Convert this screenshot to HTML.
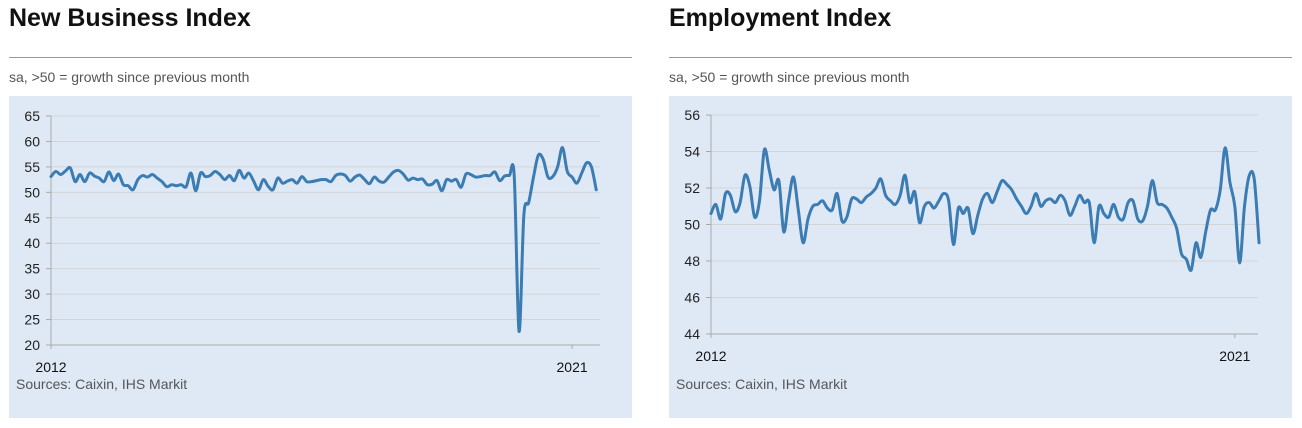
<!DOCTYPE html>
<html><head><meta charset="utf-8">
<style>
html,body{margin:0;padding:0;background:#fff;width:1302px;height:428px;overflow:hidden;font-family:"Liberation Sans",sans-serif;}
.title{position:absolute;top:4px;font-size:25px;font-weight:bold;color:#111;}
.rule{position:absolute;top:57px;height:1px;background:#999;width:623px;}
.sub{position:absolute;top:69px;font-size:14px;color:#555;}
svg{position:absolute;left:0;top:0;}
</style></head><body>
<div class="title" style="left:9px">New Business Index</div>
<div class="rule" style="left:9px"></div>
<div class="sub" style="left:9px">sa, &gt;50 = growth since previous month</div>
<div class="title" style="left:669px">Employment Index</div>
<div class="rule" style="left:669px"></div>
<div class="sub" style="left:669px">sa, &gt;50 = growth since previous month</div>
<svg id="svg" width="1302" height="428"></svg>
<script>
const nbValues=[53.1,54.1,53.5,54.2,54.8,52.1,53.5,52.1,53.8,53.2,52.8,52.1,54,52.3,53.6,51.5,51.3,50.5,52.5,53.3,53,53.5,52.8,52.1,51.1,51.5,51.3,51.5,51.1,53.8,50.3,53.8,53.1,53.3,54.1,53.5,52.5,53.3,52.3,54.3,52.8,53.8,52.2,50.5,52.5,51.2,50.5,52.8,51.8,52.2,52.5,51.8,53.1,52.1,52.1,52.3,52.5,
52.5,52.1,53.3,53.6,53.3,52.2,53,53.4,52.5,51.7,53,52.2,52,53,54,54.3,53.6,52.4,52.8,52.5,52.6,51.5,51.6,52.3,50.3,52.5,52.2,52.5,51,53.6,53.5,53,53.1,53.3,53.3,54,52.3,53.2,53.3,53.3,22.7,45.5,48,53,57.3,56.5,53,53.1,55,58.8,54.1,53,51.8,53.8,55.8,55,50.5];
const empValues=[50.6,51.1,50.3,51.7,51.6,50.7,51.2,52.7,52.1,50.4,51.3,54.1,53,51.9,52.4,49.6,51.3,52.6,50.8,49,50.3,51,51.1,51.3,50.9,50.8,51.7,50.2,50.4,51.4,51.4,51.2,51.5,51.7,52,52.5,51.6,51.3,51.1,51.6,52.7,51.2,51.8,50.1,51,51.2,50.9,51.3,51.7,51.3,48.9,50.9,50.6,50.9,49.5,50.5,51.4,51.7,
51.2,51.8,52.4,52.2,51.9,51.4,51,50.6,51,51.7,51,51.3,51.4,51.2,51.6,51.3,50.5,51,51.6,51.2,51.2,49,51,50.6,50.4,51.1,50.4,50.3,51.2,51.3,50.3,50.2,51,52.4,51.2,51.1,50.9,50.4,49.8,48.4,48.1,47.5,49,48.2,49.6,50.8,50.8,51.9,54.2,52.3,51,47.9,51,52.7,52.5,49];
const nbTicks=[65,60,55,50,45,40,35,30,25,20];
const empTicks=[56,54,52,50,48,46,44];
const xTickLabels=["2012","2021"];
const xTickMonths=[0,108];

const NS="http://www.w3.org/2000/svg";
const svg=document.getElementById('svg');
function mk(tag,attrs){const e=document.createElementNS(NS,tag);for(const k in attrs)e.setAttribute(k,attrs[k]);svg.appendChild(e);return e;}

function chart(o){
  const p=mk('rect',{x:o.px,y:96,width:623,height:322,fill:'#dfe9f6'});
  
  
  const ymin=o.ticks[o.ticks.length-1], ymax=o.ticks[0];
  const ys=v=>o.y1+(ymax-v)/(ymax-ymin)*(o.y0-o.y1);
  const xs=m=>o.x0+m*o.mpx;
  o.ticks.forEach(t=>{
    const y=ys(t);
    const g=mk('line',{x1:o.x0,x2:o.xr,y1:y,y2:y,stroke:t===ymin?'#aaa':'#d4d4d4','stroke-width':1});
    
    
    mk('line',{x1:o.x0-5,x2:o.x0,y1:y,y2:y,stroke:'#aaa'});
    const tx=mk('text',{x:o.x0-11,y:y+5,'text-anchor':'end','font-size':14,fill:'#222','font-family':'Liberation Sans, sans-serif'});
    tx.textContent=t;
    
    
  });
  const ax=mk('line',{x1:o.x0,x2:o.x0,y1:o.y1,y2:o.y0+4,stroke:'#aaa'});
  
  
  xTickMonths.forEach((m,i)=>{
    const x=xs(m);
    mk('line',{x1:x,x2:x,y1:o.y0,y2:o.y0+4,stroke:'#aaa'});
    const tx=mk('text',{x:x,y:o.y0+27,'text-anchor':'middle','font-size':14,fill:'#111','font-family':'Liberation Sans, sans-serif'});
    tx.textContent=xTickLabels[i];
    
    
  });
  const pts=o.values.map((v,i)=>[xs(i),ys(v)]);
  let d='M'+pts[0][0]+','+pts[0][1];
  for(let i=0;i<pts.length-1;i++){
    const p0=pts[Math.max(0,i-1)],p1=pts[i],p2=pts[i+1],p3=pts[Math.min(pts.length-1,i+2)];
    const t=0.16;
    d+=' C'+(p1[0]+(p2[0]-p0[0])*t)+','+(p1[1]+(p2[1]-p0[1])*t)+' '+(p2[0]-(p3[0]-p1[0])*t)+','+(p2[1]-(p3[1]-p1[1])*t)+' '+p2[0]+','+p2[1];
  }
  const ln=mk('path',{d:d,fill:'none',stroke:'#3b7cb2','stroke-width':3,'stroke-linejoin':'round','stroke-linecap':'round'});
  
  
  const src=mk('text',{x:o.px+7,y:389,'font-size':14,fill:'#555','font-family':'Liberation Sans, sans-serif'});
  src.textContent='Sources: Caixin, IHS Markit';
  
  
}
chart({key:'new-business',px:9,x0:51,xr:600,y1:116,y0:345,mpx:4.825,values:nbValues,ticks:nbTicks});
chart({key:'employment',px:669,x0:711,xr:1258,y1:115,y0:334,mpx:4.85,values:empValues,ticks:empTicks});
</script>
</body></html>
